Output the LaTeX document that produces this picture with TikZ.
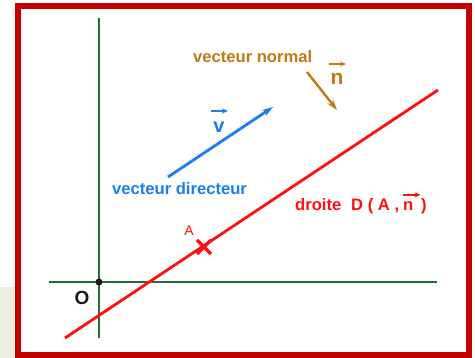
\documentclass[tikz,border=0pt]{standalone}
\usepackage{fontspec}
\setmainfont{Liberation Sans}
\usetikzlibrary{arrows.meta,calc}
\definecolor{frame}{HTML}{C40000}
\definecolor{axis}{HTML}{1E6E3C}
\definecolor{blu}{HTML}{1A7DF0}
\definecolor{brn}{HTML}{C27A12}
\definecolor{lin}{HTML}{FF1010}
\definecolor{beige}{HTML}{ECEEE0}
\tikzset{
  lbl/.style={inner sep=0pt, font=\bfseries\fontsize{16.6}{18}\selectfont},
  vecarrow/.style={-{Stealth[length=6pt,width=5pt]}, line width=1.5pt},
  bigarrow/.style={-{Stealth[length=11pt,width=7pt]}, line width=2.8pt}
}
\begin{document}
\begin{tikzpicture}[x=1pt,y=-1pt]
\useasboundingbox (0,0) rectangle (475,358);
% beige strip
\fill[beige] (0,287) rectangle (15,358);
% frame
\fill[white] (18,6) rectangle (469,355);
\draw[frame, line width=6pt] (18,6) rectangle (469,355);
% axes
\coordinate (yb) at (99,338); \coordinate (yt) at (99,18);
\coordinate (xl) at (49,282); \coordinate (xr) at (437,282);
\draw[axis, line width=2.4pt] (yb) -- (yt);
\draw[axis, line width=2.4pt] (xl) -- (xr);
\node[circle, fill=black!90, inner sep=0pt, minimum size=7pt] (O) at (99,282) {};
\node[font=\bfseries\fontsize{19}{21}\selectfont, text=black!90, inner sep=0pt] (Olbl) at (82,298) {O};
% line D
\coordinate (d1) at (65,338); \coordinate (d2) at (438,90);
\draw[lin, line width=2.8pt] (d1) -- (d2);
% point A
\coordinate (A) at (204,247);
\draw[lin, line width=3.2pt] ($(A)+(-7,-7)$) -- ($(A)+(7,7)$);
\draw[lin, line width=3.2pt] ($(A)+(-7,7)$) -- ($(A)+(7,-7)$);
\node[text=lin, inner sep=0pt, font=\fontsize{14}{16}\selectfont] (Albl) at (189,231) {A};
% direction vector
\coordinate (v1) at (168,177); \coordinate (v2) at (273,107);
\draw[blu, bigarrow] (v1) -- (v2);
\node[text=blu, inner sep=0pt, font=\bfseries\fontsize{20}{22}\selectfont] (vl) at (219,127) {v};
\draw[blu, vecarrow] (211,111) -- (228,111);
\node[lbl, text=blu, anchor=base west] (vd) at (112,195) {vecteur directeur};
% normal vector
\coordinate (n1) at (307,72); \coordinate (n2) at (337,110);
\draw[brn, line width=2.4pt, -{Stealth[length=11pt,width=7pt]}] (n1) -- (n2);
\node[text=brn, inner sep=0pt, font=\bfseries\fontsize{21}{23}\selectfont] (nl) at (337,79) {n};
\draw[brn, vecarrow] (329,64) -- (346,64);
\node[lbl, text=brn, anchor=base west] (vn) at (193,63) {vecteur normal};
% droite label
\node[lbl, text=lin, anchor=base west] (dr) at (295,211) {droite};
\node[lbl, text=lin, anchor=base west] (dD) at (351,211) {D ( A ,};
\node[lbl, text=lin, anchor=base west] (dn) at (403,211) {n};
\node[lbl, text=lin, anchor=base west] (dp) at (421,211) {)};
\draw[lin, vecarrow] ($(dn.north west)+(0,-7)$) -- ($(dn.north east)+(7,-7)$);
\end{tikzpicture}
\end{document}
